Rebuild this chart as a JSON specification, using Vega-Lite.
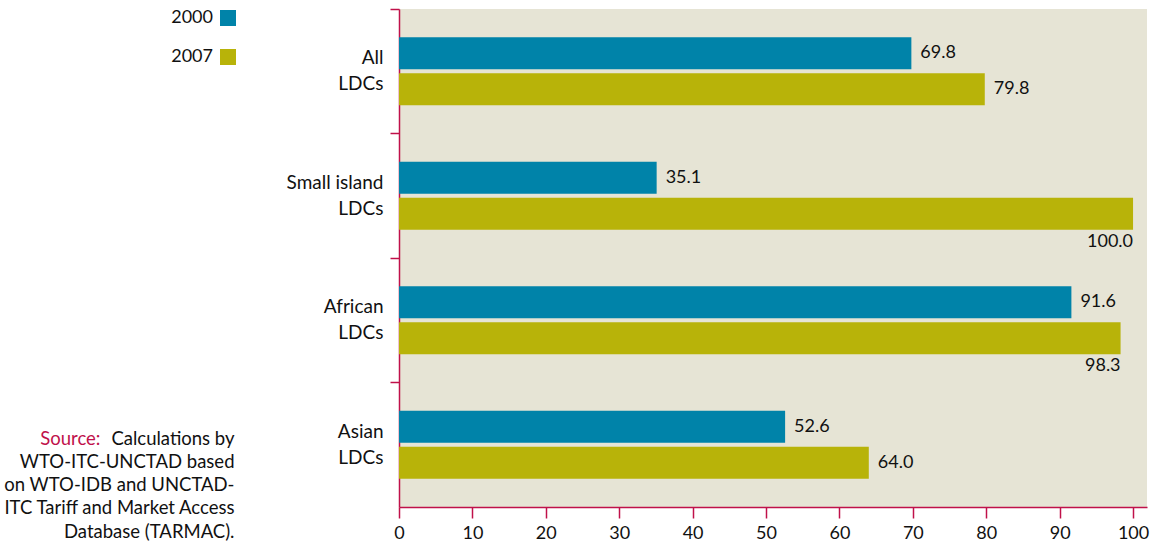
{
  "$schema": "https://vega.github.io/schema/vega-lite/v6.json",
  "autosize": "none",
  "padding": {"left": 399, "top": 9, "right": 10, "bottom": 37},
  "width": 748,
  "height": 498,
  "config": {
    "font": "Lato",
    "view": {"fill": "#e6e4d5", "stroke": null},
    "axis": {"labelFont": "Lato", "titleFont": "Lato", "labelColor": "#111111", "grid": false}
  },
  "data": {
    "values": [
      {"group": "All LDCs", "year": "2000", "value": 69.8},
      {"group": "All LDCs", "year": "2007", "value": 79.8},
      {"group": "Small island LDCs", "year": "2000", "value": 35.1},
      {"group": "Small island LDCs", "year": "2007", "value": 100.0},
      {"group": "African LDCs", "year": "2000", "value": 91.6},
      {"group": "African LDCs", "year": "2007", "value": 98.3},
      {"group": "Asian LDCs", "year": "2000", "value": 52.6},
      {"group": "Asian LDCs", "year": "2007", "value": 64.0}
    ]
  },
  "encoding": {
    "y": {
      "field": "group",
      "type": "nominal",
      "sort": ["All LDCs", "Small island LDCs", "African LDCs", "Asian LDCs"],
      "scale": {"paddingInner": 0, "paddingOuter": 0},
      "axis": {
        "bandPosition": 0,
        "labelExpr": "[replace(datum.label, ' LDCs', ''), 'LDCs']",
        "labelFontSize": 19,
        "labelLineHeight": 26,
        "labelOffset": -13,
        "labelPadding": 7,
        "tickSize": 9,
        "tickColor": "#c0114a",
        "domainColor": "#c0114a",
        "tickWidth": 1.5,
        "domainWidth": 1.5,
        "title": ["Calculations by", "WTO-ITC-UNCTAD based", "on WTO-IDB and UNCTAD-", "ITC Tariff and Market Access", "Database (TARMAC)."],
        "titleAngle": 0,
        "titleAlign": "right",
        "titleBaseline": "alphabetic",
        "titleX": -165,
        "titleY": 435,
        "titleFontSize": 18.5,
        "titleFontWeight": "normal",
        "titleLineHeight": 23.3,
        "titleColor": "#111111"
      }
    },
    "yOffset": {
      "field": "year",
      "type": "nominal",
      "scale": {"paddingInner": 0.111, "paddingOuter": 0.785}
    },
    "x": {
      "field": "value",
      "type": "quantitative",
      "scale": {"domain": [0, 101.9], "nice": false},
      "axis": {
        "values": [0, 10, 20, 30, 40, 50, 60, 70, 80, 90, 100],
        "labelFontSize": 18,
        "labelPadding": 6,
        "tickSize": 11,
        "tickColor": "#c0114a",
        "domainColor": "#c0114a",
        "tickWidth": 1.5,
        "domainWidth": 1.5,
        "labelFlush": false,
        "title": "Source:",
        "titleX": -299,
        "titleY": -63,
        "titleAlign": "right",
        "titleBaseline": "alphabetic",
        "titleFontSize": 18.5,
        "titleFontWeight": "normal",
        "titleColor": "#c0114a"
      }
    }
  },
  "layer": [
    {
      "mark": {"type": "bar"},
      "encoding": {
        "color": {
          "field": "year",
          "type": "nominal",
          "scale": {"domain": ["2000", "2007"], "range": ["#0083a9", "#b8b309"]},
          "legend": {
            "title": null,
            "orient": "none",
            "legendX": -180,
            "legendY": 0,
            "padding": 0,
            "symbolType": "square",
            "symbolSize": 256,
            "symbolStrokeWidth": 0,
            "rowPadding": 21,
            "labelAlign": "right",
            "labelOffset": -24,
            "labelFontSize": 18,
            "labelFont": "Lato",
            "labelColor": "#111111"
          }
        }
      }
    },
    {
      "transform": [{"filter": "datum.value < 95"}],
      "mark": {"type": "text", "align": "left", "baseline": "middle", "dx": 9, "fontSize": 18, "color": "#111111"},
      "encoding": {"text": {"field": "value", "type": "quantitative", "format": ".1f"}}
    },
    {
      "transform": [{"filter": "datum.value >= 95"}],
      "mark": {"type": "text", "align": "right", "baseline": "middle", "dx": 0, "dy": 28, "fontSize": 18, "color": "#111111"},
      "encoding": {"text": {"field": "value", "type": "quantitative", "format": ".1f"}}
    }
  ]
}
